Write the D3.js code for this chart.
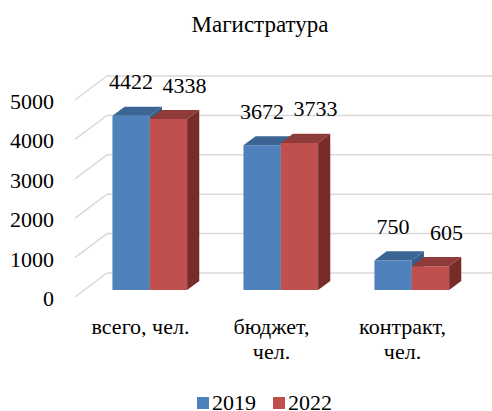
<!DOCTYPE html>
<html>
<head>
<meta charset="utf-8">
<script src="https://cdn.jsdelivr.net/npm/d3@7"></script>
<style>
  body { margin: 0; background: #fff; }
  svg text { font-family: "Times New Roman", "Liberation Serif", Tinos, serif !important; }
</style>
</head>
<body>
<div id="chart"></div>
<script>
// Data
const chartTitle = "Магистратура";
const categories = ["всего, чел.", "бюджет, чел.", "контракт, чел."];
const series = ["2019", "2022"];
const values2019 = [4422, 3672, 750];
const values2022 = [4338, 3733, 605];
const yTicks = [0, 1000, 2000, 3000, 4000, 5000];

const width = 492;
const height = 411;
const serif = '"Times New Roman", "Liberation Serif", Tinos, serif';

// 3d look: floor depth offset and bar depth slice
const depthX = 32, depthY = -24;
const barD0 = 0.29, barD1 = 0.67;
const floorY = 297;

const colors = {
    "2019": { front: "#4F81BD", top: "#3A6594", side: "#385D8A" },
    "2022": { front: "#C0504D", top: "#8E3B39", side: "#772C2A" }
};
const labelShift = { "2019": 0, "2022": 16 };

const rows = categories.map((c, i) => ({ cat: c, "2019": values2019[i], "2022": values2022[i] }));

const x0 = d3.scaleBand()
    .domain(categories)
    .range([75, 468])
    .paddingInner(0.43)
    .paddingOuter(0.215);

const x1 = d3.scaleBand()
    .domain(series)
    .range([0, x0.bandwidth()]);

const yH = d3.scaleLinear().domain([0, 5000]).range([0, 197]);

// project (x on front plane, value, depth 0..1) to screen
const proj = (x, v, d) => [x + d * depthX, floorY - yH(v) + d * depthY];

const svg = d3.select("#chart").append("svg")
    .attr("width", width)
    .attr("height", height)
    .style("font-family", serif);

// Gridlines (floor side + back wall)
const grid = svg.append("g");
yTicks.forEach(t => {
    const a = proj(x0.range()[0], t, 0);
    const b = proj(x0.range()[0], t, 1);
    const c = proj(x0.range()[1] + 20, t, 1);
    grid.append("polyline")
        .attr("points", [a, b, c].map(p => p.join(",")).join(" "))
        .attr("fill", "none")
        .attr("stroke", "#D9D9D9")
        .attr("stroke-width", 1.5);
});

// Bars
const bars = svg.append("g");
rows.forEach(row => {
    series.forEach(s => {
        const v = row[s];
        const xl = x0(row.cat) + x1(s);
        const xr = xl + x1.bandwidth();
        const fTL = proj(xl, v, barD0), fTR = proj(xr, v, barD0);
        const fBR = proj(xr, 0, barD0), fBL = proj(xl, 0, barD0);
        const bTL = proj(xl, v, barD1), bTR = proj(xr, v, barD1), bBR = proj(xr, 0, barD1);
        const poly = pts => pts.map(p => p.join(",")).join(" ");
        bars.append("polygon").attr("points", poly([fTL, fTR, fBR, fBL])).attr("fill", colors[s].front);
        bars.append("polygon").attr("points", poly([fTL, bTL, bTR, fTR])).attr("fill", colors[s].top);
        bars.append("polygon").attr("points", poly([fTR, bTR, bBR, fBR])).attr("fill", colors[s].side);
    });
});

// Title
svg.append("text")
    .attr("x", 260)
    .attr("y", 32)
    .attr("text-anchor", "middle")
    .style("font-family", serif)
    .style("font-size", "23px")
    .text(chartTitle);

// Y tick labels
svg.append("g").selectAll("text")
    .data(yTicks)
    .join("text")
    .attr("x", 54)
    .attr("y", d => proj(0, d, 0)[1] + 9)
    .attr("text-anchor", "end")
    .style("font-family", serif)
    .style("font-size", "22px")
    .text(d => d);

// Value labels
rows.forEach(row => {
    series.forEach(s => {
        const v = row[s];
        const cx = x0(row.cat) + x1(s) + x1.bandwidth() / 2;
        const top = proj(cx, v, barD0);
        svg.append("text")
            .attr("x", top[0] + labelShift[s])
            .attr("y", top[1] - 26.5)
            .attr("text-anchor", "middle")
            .style("font-family", serif)
            .style("font-size", "22px")
            .text(v);
    });
});

// Category labels, long ones wrapped after the comma
const catG = svg.append("g");
categories.forEach(c => {
    const cx = x0(c) + x0.bandwidth() / 2;
    const lines = c.length > 11 ? c.split(" ") : [c];
    const t = catG.append("text")
        .attr("text-anchor", "middle")
        .style("font-family", serif)
        .style("font-size", "22px");
    lines.forEach((ln, j) => {
        t.append("tspan").attr("x", cx).attr("y", 334 + j * 25).text(ln);
    });
});

// Legend
const legendX = [197, 273];
const legend = svg.append("g");
series.forEach((s, i) => {
    legend.append("rect")
        .attr("x", legendX[i])
        .attr("y", 397)
        .attr("width", 12)
        .attr("height", 12)
        .attr("fill", colors[s].front);
    legend.append("text")
        .attr("x", legendX[i] + 15)
        .attr("y", 410)
        .style("font-family", serif)
        .style("font-size", "22px")
        .text(s);
});
</script>
</body>
</html>
